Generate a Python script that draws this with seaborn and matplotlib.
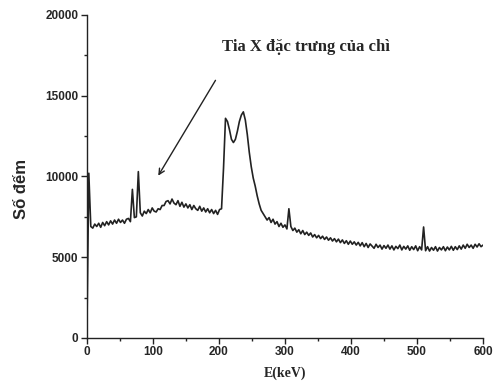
import numpy as np
import pandas as pd
import matplotlib
matplotlib.use("Agg")
import matplotlib.pyplot as plt
from matplotlib.ticker import MultipleLocator
import seaborn as sns

# energy channels (keV), 3 keV bins
energy = np.arange(0, 601, 3)

# counts
counts = [
    0, 10200, 6900, 6800, 7050, 6900, 7100, 6850, 7150, 6950,           # 0-27
    7200, 7000, 7250, 7050, 7300, 7100, 7350, 7150, 7300, 7100,         # 30-57
    7350, 7400, 7200, 9200, 7450, 7500, 10300, 7750, 7550, 7850,        # 60-87
    7700, 7950, 7750, 8050, 7850, 7800, 8000, 7950, 8200, 8200,         # 90-117
    8450, 8500, 8300, 8600, 8350, 8250, 8500, 8150, 8400, 8100,         # 120-147
    8300, 8050, 8250, 7950, 8200, 8000, 7900, 8150, 7850, 8050,         # 150-177
    7800, 8000, 7750, 7950, 7700, 7900, 7650, 7950, 8000, 10500,        # 180-207
    13600, 13400, 12900, 12300, 12100, 12300, 12800, 13400, 13800, 14000,  # 210-237
    13500, 12600, 11500, 10600, 9900, 9400, 8800, 8300, 7900, 7700,     # 240-267
    7500, 7300, 7450, 7150, 7350, 7050, 7200, 6900, 7100, 6850,         # 270-297
    7000, 6750, 8000, 6900, 6650, 6800, 6550, 6700, 6450, 6650,         # 300-327
    6400, 6550, 6350, 6500, 6250, 6400, 6200, 6350, 6150, 6300,         # 330-357
    6100, 6250, 6050, 6200, 6000, 6150, 5950, 6120, 5900, 6070,         # 360-387
    5850, 6020, 5800, 6000, 5800, 5950, 5750, 5920, 5700, 5900,         # 390-417
    5650, 5850, 5600, 5820, 5680, 5550, 5800, 5600, 5750, 5500,         # 420-447
    5720, 5550, 5750, 5500, 5700, 5450, 5670, 5530, 5750, 5450,         # 450-477
    5670, 5500, 5700, 5430, 5650, 5470, 5700, 5400, 5650, 5450,         # 480-507
    6870, 5400, 5650, 5380, 5600, 5430, 5650, 5380, 5600, 5450,         # 510-537
    5650, 5400, 5630, 5450, 5670, 5430, 5650, 5470, 5700, 5500,         # 540-567
    5750, 5550, 5800, 5600, 5750, 5550, 5800, 5630, 5830, 5650,         # 570-597
    5750,                                                               # 600
]

df = pd.DataFrame({"E": energy, "counts": counts})

sns.set_style("ticks")
plt.rcParams["font.family"] = ["Liberation Sans", "DejaVu Sans"]

fig, ax = plt.subplots(figsize=(4.99, 3.84), dpi=100)
fig.subplots_adjust(left=0.174, right=0.968, top=0.961, bottom=0.12)

sns.lineplot(data=df, x="E", y="counts", ax=ax, color="#222222", linewidth=1.2)

ax.set_xlim(0, 600)
ax.set_ylim(0, 20000)
ax.xaxis.set_major_locator(MultipleLocator(100))
ax.xaxis.set_minor_locator(MultipleLocator(50))
ax.yaxis.set_major_locator(MultipleLocator(5000))
ax.yaxis.set_minor_locator(MultipleLocator(2500))
ax.tick_params(which="major", length=4, width=1, labelsize=8.5, color="#222222", pad=2)
ax.tick_params(which="minor", length=2, width=1, color="#222222")
for lbl in ax.get_xticklabels() + ax.get_yticklabels():
    lbl.set_fontweight("bold")
sns.despine(ax=ax)
for s in ("left", "bottom"):
    ax.spines[s].set_color("#222222")
    ax.spines[s].set_linewidth(1.0)

ax.set_xlabel("E(keV)", fontsize=10, fontweight="bold", family="Liberation Serif", labelpad=6)
ax.set_ylabel("Số đếm", fontsize=12, fontweight="bold")
ax.yaxis.set_label_coords(-0.145, 0.46)

ax.annotate("Tia X đặc trưng của chì", xy=(106, 9900), xytext=(204, 18000),
            fontsize=12, fontweight="bold", family="Liberation Serif",
            va="center", ha="left")
ax.annotate("", xy=(106, 9900), xytext=(197, 16100),
            arrowprops=dict(arrowstyle="->", color="#222222", lw=1.0))

fig.savefig("out.png", dpi=100)
